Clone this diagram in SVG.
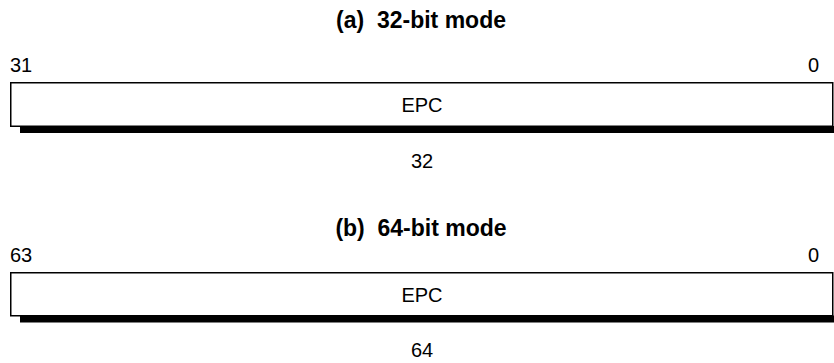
<svg xmlns="http://www.w3.org/2000/svg" width="834" height="363" viewBox="0 0 834 363">
<style>
text{font-family:"Liberation Sans",Arial,sans-serif;font-size:20px;fill:#000}
.t{font-weight:bold;font-size:23px;text-anchor:middle;white-space:pre}
.m{text-anchor:middle}
.e{text-anchor:end}
.box{fill:#fff;stroke:#000;stroke-width:1.5}
.sh{fill:#000}
</style>
<rect width="834" height="363" fill="#fff"/>
<g id="modeA">
<text class="t" x="421" y="28" xml:space="preserve">(a)  32-bit mode</text>
<text x="10" y="72">31</text>
<text class="e" x="819" y="72">0</text>
<rect class="sh" x="20" y="126" width="814" height="7"/>
<rect class="box" x="10.75" y="82.75" width="822" height="43.5"/>
<text class="m" x="422" y="112">EPC</text>
<text class="m" x="422" y="168">32</text>
</g>
<g id="modeB">
<text class="t" x="421" y="236" xml:space="preserve">(b)  64-bit mode</text>
<text x="10" y="262">63</text>
<text class="e" x="819" y="262">0</text>
<rect class="sh" x="20" y="315.5" width="814" height="7"/>
<rect class="box" x="10.75" y="272.75" width="822" height="43"/>
<text class="m" x="422" y="302">EPC</text>
<text class="m" x="422" y="357">64</text>
</g>
<g id="connectors"/>
</svg>
